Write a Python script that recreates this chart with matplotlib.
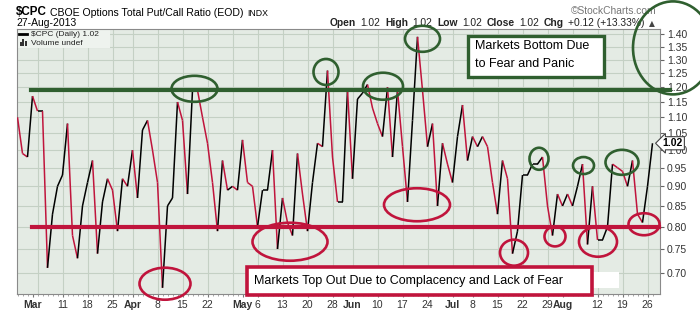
import numpy as np
import pandas as pd
import matplotlib
matplotlib.use("Agg")
import matplotlib.pyplot as plt
from matplotlib.collections import LineCollection
from matplotlib.patches import Ellipse, Rectangle
from matplotlib.lines import Line2D
from matplotlib.ticker import NullLocator, FixedLocator

plt.rcParams['font.family'] = ['Liberation Sans', 'DejaVu Sans']

# trading days shown on the chart
holidays = ["2013-03-29", "2013-05-27", "2013-07-04"]
dates = pd.bdate_range("2013-02-26", "2013-08-27", freq="C", holidays=holidays)

# $CPC daily close
cpc = [
    1.10, 0.99, 0.98, 1.17, 1.12, 1.12, 0.71, 0.83, 0.90, 0.93,
    1.08, 0.78, 0.73, 0.85, 0.91, 0.97, 0.74, 0.86, 0.92, 0.89,
    0.79, 0.92, 0.90, 1.00, 0.87, 1.06, 1.09, 1.00, 0.91, 0.67,
    0.85, 0.87, 1.15, 1.09, 0.88, 1.19, 1.19, 1.10, 1.02, 0.91,
    0.79, 0.97, 0.89, 0.90, 0.89, 1.03, 0.91, 0.90, 0.80, 0.89,
    0.89, 1.00, 0.75, 0.87, 0.81, 0.78, 0.99, 0.88, 0.79, 0.91,
    1.02, 1.01, 1.26, 0.98, 0.86, 0.86, 1.19, 0.92, 1.16, 1.18,
    1.21, 1.13, 1.08, 1.04, 1.20, 0.98, 1.19, 1.01, 0.86, 1.09,
    1.39, 1.19, 1.01, 1.08, 0.85, 1.02, 0.96, 0.91, 1.04, 1.14,
    0.97, 1.04, 1.01, 1.04, 1.01, 0.91, 0.83, 0.97, 0.92, 0.74,
    0.79, 0.93, 0.93, 0.96, 0.96, 0.98, 0.85, 0.78, 0.88, 0.85,
    0.88, 0.85, 0.90, 0.96, 0.76, 0.90, 0.77, 0.77, 0.80, 0.96,
    0.95, 0.94, 0.90, 0.97, 0.83, 0.81, 0.90, 1.02,
]

tick_dates = ["2013-03-01", "2013-03-11", "2013-03-18", "2013-03-25", "2013-04-01",
              "2013-04-08", "2013-04-15", "2013-04-22", "2013-05-01", "2013-05-06",
              "2013-05-13", "2013-05-20", "2013-05-28", "2013-06-03", "2013-06-10",
              "2013-06-17", "2013-06-24", "2013-07-01", "2013-07-08", "2013-07-15",
              "2013-07-22", "2013-07-29", "2013-08-01", "2013-08-12", "2013-08-19",
              "2013-08-26"]
tick_labels = ["Mar", "11", "18", "25", "Apr", "8", "15", "22", "May", "6", "13", "20",
               "28", "Jun", "10", "17", "24", "Jul", "8", "15", "22", "29", "Aug", "12",
               "19", "26"]
y_ticks = [0.70, 0.75, 0.80, 0.85, 0.90, 0.95, 1.00, 1.05, 1.10, 1.15, 1.20,
           1.25, 1.30, 1.35, 1.40]

fear_level = 1.19
complacency_level = 0.80

# hand drawn rings: (trading day index, ratio, width px, height px)
green_rings = [(35.4, 1.195, 46, 26), (61.7, 1.255, 25, 26), (73.1, 1.204, 40, 27),
               (81.0, 1.382, 35, 26), (104.3, 0.975, 19, 22), (113.2, 0.956, 21, 17),
               (120.9, 0.965, 33, 25), (131.1, 1.346, 80, 93)]
red_rings = [(29.5, 0.678, 51, 32), (54.5, 0.766, 75, 38), (79.9, 0.853, 66, 33),
             (99.3, 0.742, 28, 26), (107.5, 0.778, 21, 20), (116.1, 0.766, 38, 30),
             (125.3, 0.806, 31, 22)]

RED = "#c0143c"
GREEN = "#2f5f2f"
W, H = 700, 312

fig = plt.figure(figsize=(W / 100, H / 100), dpi=100, facecolor="white")
ax = fig.add_axes([17 / W, 1 - 294 / H, 643 / W, 265 / H])
ax.set_facecolor("#e4ebe4")
renderer = fig.canvas.get_renderer()

x = np.arange(len(cpc))
y = np.array(cpc)
pts = np.column_stack([x, y])
segs = np.stack([pts[:-1], pts[1:]], axis=1)
cols = [RED if b < a else "black" for a, b in zip(y[:-1], y[1:])]
ax.add_collection(LineCollection(segs, colors=cols, linewidths=1.1, zorder=3))

ax.set_yscale("log")
ax.set_xlim(-0.1, 128.5)
ax.set_ylim(0.658, 1.422)

# grid
ax.yaxis.set_major_locator(FixedLocator(y_ticks))
ax.yaxis.set_minor_locator(NullLocator())
ax.set_yticklabels([f"{v:.2f}" for v in y_ticks])
ax.grid(axis="y", color="#c4d0c4", lw=0.8, zorder=0)
week = dates.isocalendar().week.values
week_starts = [i for i in range(1, len(dates)) if week[i] != week[i - 1]]
for i in week_starts:
    ax.axvline(i, color="#c4d0c4", lw=0.8, zorder=0)

ax.yaxis.tick_right()
ax.tick_params(axis="y", labelsize=7.5, labelcolor="#333333", color="#666666",
               length=3, pad=2)

idx = {d: i for i, d in enumerate(dates.strftime("%Y-%m-%d"))}
ax.set_xticks([idx[d] for d in tick_dates])
ax.set_xticklabels(tick_labels)
for lab in ax.get_xticklabels():
    lab.set_fontsize(7.5)
    lab.set_color("#333333")
    if lab.get_text().isalpha():
        lab.set_fontweight("bold")
ax.xaxis.set_minor_locator(FixedLocator(x))
ax.tick_params(axis="x", which="major", length=2, color="#777777", pad=2)
ax.tick_params(axis="x", which="minor", length=1.5, color="#999999")
for s in ax.spines.values():
    s.set_color("#8a8a8a")
    s.set_linewidth(0.8)

# support / resistance lines
ax.plot([2.6, 130.5], [fear_level] * 2, color=GREEN, lw=3, clip_on=False, zorder=4)
ax.plot([2.9, 128.3], [complacency_level] * 2, color=RED, lw=3, clip_on=False, zorder=4)


def ring(ix, val, w, h, color):
    xd, yd = ax.transData.transform((ix, val))
    fx, fy = fig.transFigure.inverted().transform((xd, yd))
    fig.add_artist(Ellipse((fx, fy), w / W, h / H, transform=fig.transFigure,
                           fill=False, ec=color, lw=1.9, zorder=6))


for r in green_rings:
    ring(*r, GREEN)
for r in red_rings:
    ring(*r, RED)

# annotation boxes
ax.add_patch(Rectangle((0.701, 0.82), 0.212, 0.154, transform=ax.transAxes, fc="white",
                       ec=GREEN, lw=2.4, clip_on=False, zorder=7))
ax.text(0.713, 0.935, "Markets Bottom Due", transform=ax.transAxes, fontsize=9,
        va="center", zorder=8)
ax.text(0.713, 0.868, "to Fear and Panic", transform=ax.transAxes, fontsize=9,
        va="center", zorder=8)
ax.add_patch(Rectangle((0.894, 0.021), 0.042, 0.063, transform=ax.transAxes, fc="white",
                       ec="none", clip_on=False, zorder=7))
ax.add_patch(Rectangle((0.357, -0.004), 0.537, 0.107, transform=ax.transAxes, fc="white",
                       ec=RED, lw=2.6, clip_on=False, zorder=7))
ax.text(0.368, 0.05, "Markets Top Out Due to Complacency and Lack of Fear",
        transform=ax.transAxes, fontsize=9, va="center", zorder=8)

# last value badge
ax.text(1.004, cpc[-1], f"{cpc[-1]:.2f}", transform=ax.get_yaxis_transform(),
        fontsize=7.5, fontweight="bold", va="center", ha="left", zorder=9,
        bbox=dict(boxstyle="larrow,pad=0.15", fc="white", ec="#444444", lw=0.8),
        clip_on=False)

# legend
ax.add_patch(Rectangle((0, 0.93), 0.145, 0.07, transform=ax.transAxes, fc="#eef3ee",
                       ec="none", zorder=2))
ax.add_line(Line2D([0.003, 0.016], [0.981, 0.981], transform=ax.transAxes, color="black",
                   lw=2, zorder=5))
ax.text(0.021, 0.981, "$CPC (Daily) 1.02", transform=ax.transAxes, fontsize=6,
        va="center", zorder=5, color="#222222")
for k, hgt in enumerate([0.016, 0.026, 0.02]):
    ax.add_patch(Rectangle((0.004 + k * 0.0045, 0.936), 0.003, hgt, transform=ax.transAxes,
                           fc="#333333", ec="none", zorder=5))
ax.text(0.021, 0.947, "Volume undef", transform=ax.transAxes, fontsize=6,
        va="center", zorder=5, color="#222222")


# header
def px(xp, yp):
    return xp / W, 1 - yp / H


def fitted(x0, x1, yp, s, **kw):
    t = fig.text(*px(x0, yp), s, fontsize=10, va="center", **kw)
    wpx = t.get_window_extent(renderer).width
    t.set_fontsize(10 * (x1 - x0) / wpx)
    return t


fitted(16, 47, 12, "$CPC", fontweight="bold")
fitted(50, 244, 12.5, "CBOE Options Total Put/Call Ratio (EOD)")
fitted(247, 268, 13, "INDX")
fitted(16, 76, 23.5, "27-Aug-2013")
fitted(571, 657, 11, "\u00a9StockCharts.com", color="#777777")

# quote line laid out piece by piece
head = [("Open", True), ("1.02", False), ("High", True), ("1.02", False),
        ("Low", True), ("1.02", False), ("Close", True), ("1.02", False),
        ("Chg", True), ("+0.12 (+13.33%)", False)]
fs = 7.4
xp = 330.0
for t, bold in head:
    tx = fig.text(*px(xp, 23.5), t, fontsize=fs, va="center",
                  fontweight="bold" if bold else "normal", color="#222222")
    xp += tx.get_window_extent(renderer).width + 4.5
fig.text(*px(xp, 23.5), "\u25b2", fontsize=5.5, va="center", color="#444444",
         family=["DejaVu Sans"])

fig.savefig("out.png", dpi=100, facecolor="white")
